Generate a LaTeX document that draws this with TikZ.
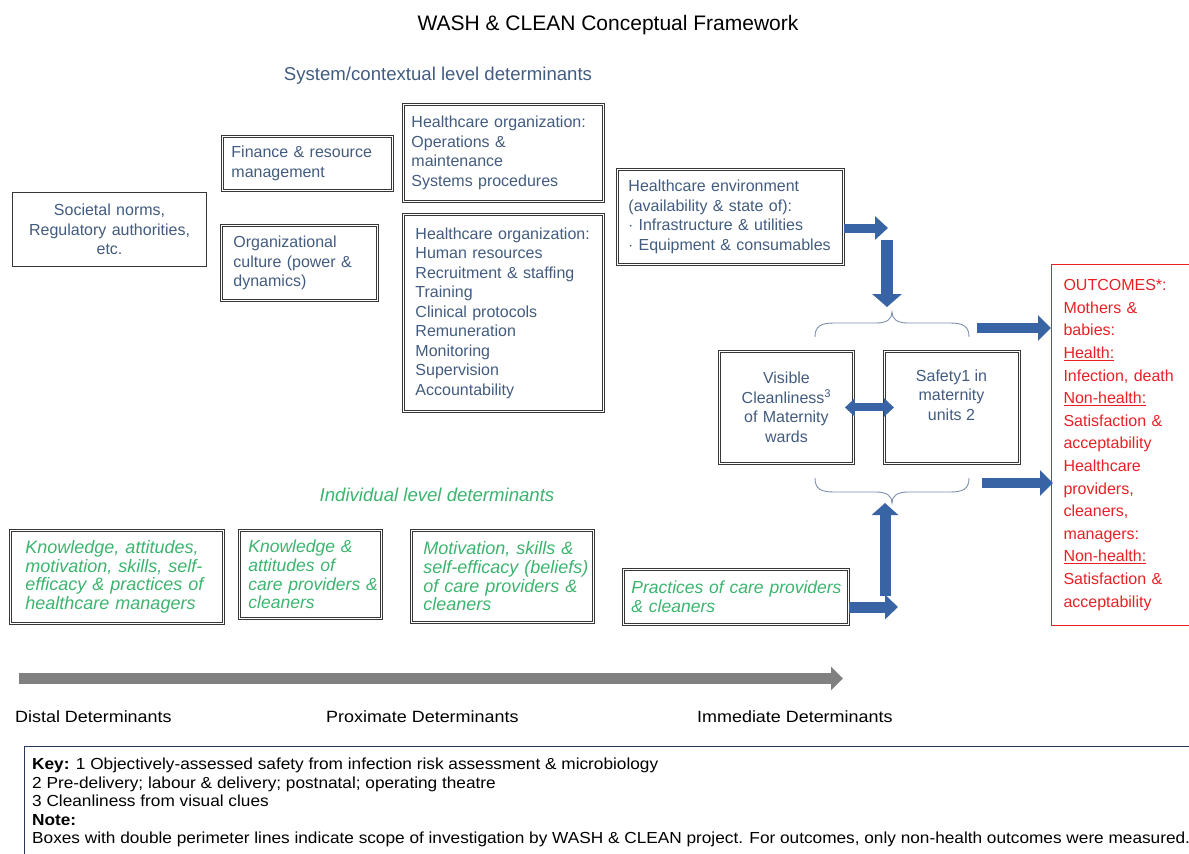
\documentclass[tikz,border=0pt]{standalone}
\usepackage{fontspec}
\setmainfont{Liberation Sans}
\newfontfamily\labfont[FakeStretch=1.1]{Liberation Sans}
\newfontfamily\keyfont[FakeStretch=1.077]{Liberation Sans}
\usetikzlibrary{arrows.meta}
\definecolor{tblue}{RGB}{66,92,128}
\definecolor{cgreen}{RGB}{60,180,110}
\definecolor{cred}{RGB}{232,32,38}
\definecolor{bord}{RGB}{55,55,55}
\definecolor{ablue}{RGB}{56,100,166}
\definecolor{brc}{RGB}{125,145,175}
\definecolor{knavy}{RGB}{40,55,90}
\definecolor{agray}{RGB}{128,128,128}
\newcommand\nb[1]{\mbox{#1}}
\tikzset{
  base/.style={inner ysep=0pt, font=\fontsize{16}{19.5}\selectfont, text=tblue, anchor=north west},
  sbox/.style={base, draw=bord, line width=1.1pt, fill=white},
  dbox/.style={base, draw=bord, double=white, double distance=1.5pt, line width=0.9pt},
  gtext/.style={font=\fontsize{18}{18.7}\selectfont\itshape, text=cgreen},
  gtextsm/.style={font=\fontsize{17.5}{18.7}\selectfont\itshape, text=cgreen},
  outbox/.style={base, draw=cred, line width=1pt, text=cred, font=\fontsize{16}{22.6}\selectfont},
  keybox/.style={draw=knavy, line width=1pt, anchor=north west},
  barrow/.style={draw=ablue, line width=10pt, -{Triangle[length=13pt,width=25pt]}},
  darrow/.style={draw=ablue, line width=8pt, {Triangle[length=10pt,width=18pt]}-{Triangle[length=10pt,width=18pt]}},
  garrow/.style={draw=agray, line width=11pt, -{Triangle[length=12pt,width=23pt]}},
  brace/.style={draw=brc, line width=0.9pt},
  lab/.style={font=\labfont\fontsize{16.3}{19.5}\selectfont, text=black, anchor=west, inner sep=0pt}
}
\begin{document}
\begin{tikzpicture}[x=1pt,y=-1pt]
\useasboundingbox (0,0) rectangle (1189,854);

% titles
\node[font=\fontsize{21}{24}\selectfont] (title) at (608,25) {WASH \& CLEAN Conceptual Framework};
\node[font=\fontsize{18.6}{22}\selectfont, text=tblue] (sys) at (438,76) {System/contextual level determinants};
\node[font=\fontsize{18.6}{22}\selectfont\itshape, text=cgreen] (ind) at (437,495) {Individual level determinants};

% system level boxes
\node[sbox, minimum width=194pt, minimum height=74pt, text width=180pt, inner xsep=7pt, align=center] (soc) at (12,192)
  {Societal norms,\\Regulatory authorities,\\etc.};
\node[dbox, minimum width=170pt, minimum height=54pt, text width=152pt, inner xsep=9pt, align=left] (fin) at (222,136)
  {\nb{Finance \& resource}\\\nb{management}};
\node[dbox, minimum width=156pt, minimum height=75pt, text width=132pt, inner xsep=12pt, align=left] (org) at (221,225)
  {\nb{Organizational}\\\nb{culture (power \&}\\\nb{dynamics)}};
\node[dbox, minimum width=200pt, minimum height=97pt, text width=184pt, inner xsep=8pt, align=left] (ops) at (403,104)
  {\nb{Healthcare organization:}\\\nb{Operations \&}\\\nb{maintenance}\\\nb{Systems procedures}};
\node[dbox, minimum width=200pt, minimum height=197pt, text width=176pt, inner xsep=12pt, align=left] (hr) at (403,214)
  {\nb{Healthcare organization:}\\\nb{Human resources}\\\nb{Recruitment \& staffing}\\\nb{Training}\\\nb{Clinical protocols}\\\nb{Remuneration}\\\nb{Monitoring}\\\nb{Supervision}\\\nb{Accountability}};
\node[dbox, minimum width=226pt, minimum height=95pt, text width=204pt, inner xsep=11pt, align=left] (env) at (617,169)
  {\nb{Healthcare environment}\\\nb{(availability \& state of):}\\\nb{$\cdot$ Infrastructure \& utilities}\\\nb{$\cdot$ Equipment \& consumables}};

% central boxes
\node[dbox, minimum width=134pt, minimum height=112pt, text width=124pt, inner xsep=5pt, align=center] (vis) at (719,351)
  {Visible\\Cleanliness\textsuperscript{3}\\of Maternity\\wards};
\node[dbox, minimum width=135pt, minimum height=112pt] (saf) at (884,351) {};
\node[font=\fontsize{16}{19.5}\selectfont, text=tblue, align=center] (saftext) at (951.5,395) {Safety1 in\\maternity\\units 2};

% outcomes
\node[outbox, minimum width=150pt, minimum height=361pt, text width=126pt, inner xsep=12pt, align=left] (out) at (1051,264)
  {\nb{OUTCOMES*:}\\\nb{Mothers \&}\\\nb{babies:}\\\nb{\underline{Health:}}\\\nb{Infection, death}\\\nb{\underline{Non-health:}}\\\nb{Satisfaction \&}\\\nb{acceptability}\\\nb{Healthcare}\\\nb{providers,}\\\nb{cleaners,}\\\nb{managers:}\\\nb{\underline{Non-health:}}\\\nb{Satisfaction \&}\\\nb{acceptability}};

% individual level boxes
\node[dbox, gtext, minimum width=213pt, minimum height=93pt, text width=183pt, inner xsep=15pt, align=left] (ka) at (10,530)
  {\nb{Knowledge, attitudes,}\\\nb{motivation, skills, self-}\\\nb{efficacy \& practices of}\\\nb{healthcare managers}};
\node[dbox, gtextsm, minimum width=142pt, minimum height=88pt, text width=124pt, inner xsep=9pt, align=left] (kb) at (239,530)
  {\nb{Knowledge \&}\\\nb{attitudes of}\\\nb{care providers \&}\\\nb{cleaners}};
\node[dbox, gtext, minimum width=182pt, minimum height=92pt, text width=158pt, inner xsep=12pt, align=left] (kc) at (411,530)
  {\nb{Motivation, skills \&}\\\nb{self-efficacy (beliefs)}\\\nb{of care providers \&}\\\nb{cleaners}};
\node[dbox, gtextsm, minimum width=225pt, minimum height=55pt, text width=209pt, inner xsep=8pt, align=left] (kd) at (623,569)
  {\nb{Practices of care providers}\\\nb{\& cleaners}};

% braces
\draw[brace] (815,337) .. controls (815,326) and (821,323) .. (834,323) -- (876,323)
  .. controls (887,323) and (892,319) .. (892,312) .. controls (892,319) and (897,323) .. (908,323)
  -- (950,323) .. controls (963,323) and (969,326) .. (969,337);
\draw[brace] (815,478) .. controls (815,489) and (821,492) .. (834,492) -- (876,492)
  .. controls (887,492) and (892,496) .. (892,503) .. controls (892,496) and (897,492) .. (908,492)
  -- (950,492) .. controls (963,492) and (969,489) .. (969,478);

% block arrows
\coordinate (e1) at (888,228);
\draw[barrow, line width=9pt, -{Triangle[length=13pt,width=23pt]}] (env.east |- e1) -- (e1);
\coordinate (d1) at (887,240);
\coordinate (d2) at (887,307);
\draw[barrow, line width=12pt, -{Triangle[length=13pt,width=29pt]}] (d1) -- (d2);
\coordinate (o1) at (977,328);
\draw[barrow] (o1) -- (out.west |- o1);
\coordinate (o2) at (982,483);
\draw[barrow] (o2) -- ([xshift=2pt]out.west |- o2);
\draw[darrow, shorten <=-9pt, shorten >=-10pt] (vis.east) -- (saf.west);
\coordinate (p1) at (898,607);
\draw[barrow, line width=11pt, -{Triangle[length=13pt,width=24pt]}] (kd.east |- p1) -- (p1);
\coordinate (u1) at (885,596);
\coordinate (u2) at (885,503);
\draw[barrow, line width=11pt, -{Triangle[length=12pt,width=26pt]}] (u1) -- (u2);

% determinants axis
\coordinate (g1) at (19,678.5);
\coordinate (g2) at (843,678.5);
\draw[garrow] (g1) -- (g2);
\node[lab] (dist) at (15,717) {Distal Determinants};
\node[lab] (prox) at (326,717) {Proximate Determinants};
\node[lab] (imm) at (697,717) {Immediate Determinants};

% key
\node[keybox, minimum width=1190pt, minimum height=140pt] (key) at (24,746) {};
\node[anchor=north west, align=left, inner sep=0pt, font=\keyfont\fontsize{16}{18.5}\selectfont] (keytext) at (32,758)
  {\textbf{Key:} 1 Objectively-assessed safety from infection risk assessment \& microbiology\\
   2 Pre-delivery; labour \& delivery; postnatal; operating theatre\\
   3 Cleanliness from visual clues\\
   \textbf{Note:}\\
   Boxes with double perimeter lines indicate scope of investigation by WASH \& CLEAN project. For outcomes, only non-health outcomes were measured.};
\end{tikzpicture}
\end{document}
